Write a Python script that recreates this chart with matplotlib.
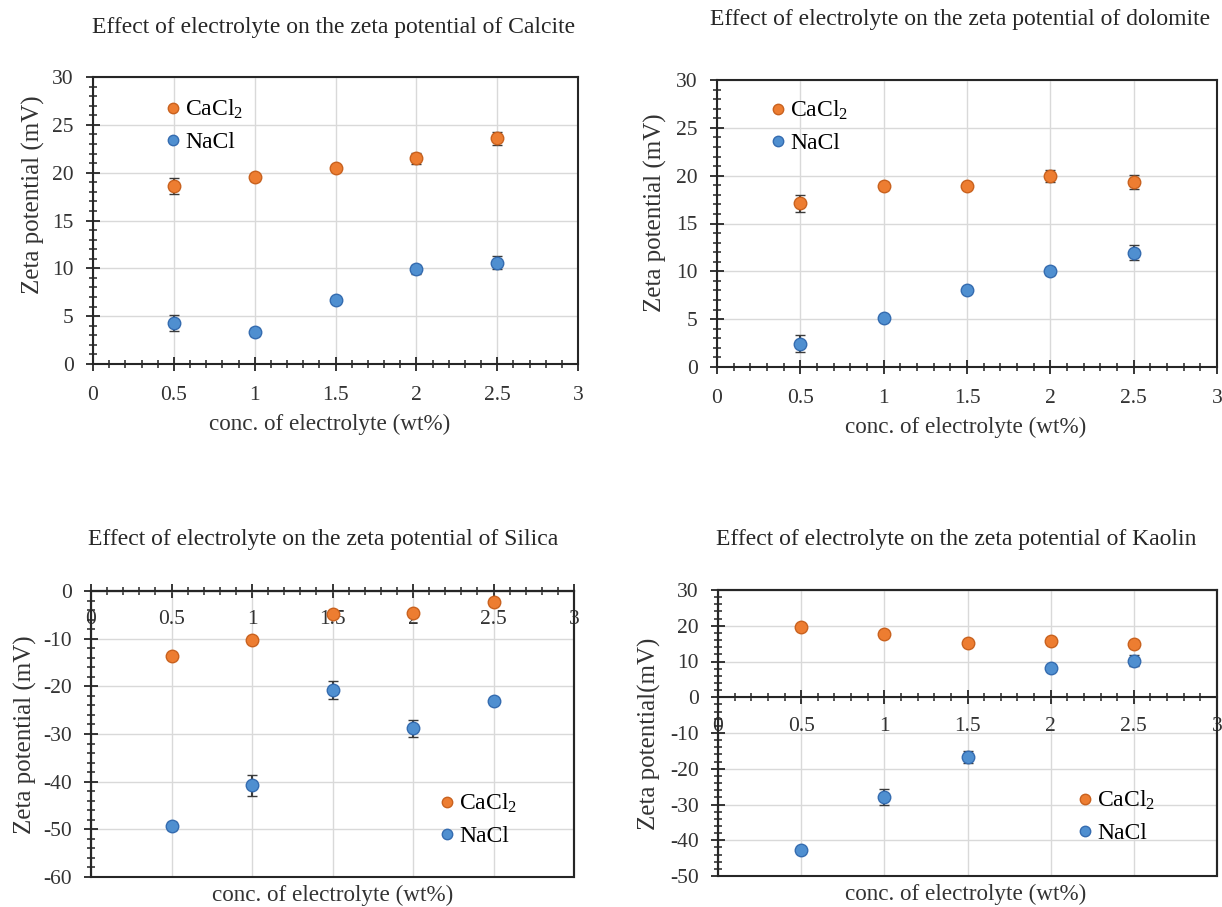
import matplotlib
matplotlib.use("Agg")
import matplotlib.pyplot as plt
from matplotlib.ticker import MultipleLocator
from matplotlib.patches import Rectangle
from matplotlib.lines import Line2D

plt.rcParams["font.family"] = ["Liberation Serif", "DejaVu Serif"]
plt.rcParams["mathtext.fontset"] = "custom"
plt.rcParams["mathtext.rm"] = "Liberation Serif"
plt.rcParams["mathtext.it"] = "Liberation Serif:italic"
plt.rcParams["axes.unicode_minus"] = False

# ---- data: zeta potential (mV) vs electrolyte concentration (wt%) ----
conc = [0.5, 1.0, 1.5, 2.0, 2.5]
x_ticks = [0, 0.5, 1, 1.5, 2, 2.5, 3]
x_tick_labels = ["0", "0.5", "1", "1.5", "2", "2.5", "3"]

calcite_cacl2 = [18.6, 19.5, 20.5, 21.5, 23.6]
calcite_cacl2_err = [0.85, 0.4, 0.3, 0.6, 0.7]
calcite_nacl = [4.25, 3.35, 6.65, 9.9, 10.6]
calcite_nacl_err = [0.85, 0.4, 0.3, 0.5, 0.7]

dolomite_cacl2 = [17.1, 18.9, 18.9, 19.95, 19.35]
dolomite_cacl2_err = [0.9, 0.4, 0.3, 0.6, 0.75]
dolomite_nacl = [2.45, 5.15, 8.1, 10.05, 11.95]
dolomite_nacl_err = [0.85, 0.3, 0.3, 0.4, 0.8]

silica_cacl2 = [-13.7, -10.3, -4.8, -4.6, -2.4]
silica_cacl2_err = [0.3, 0.5, 0.3, 0.5, 0.6]
silica_nacl = [-49.3, -40.8, -20.8, -28.8, -23.0]
silica_nacl_err = [0.8, 2.2, 1.85, 1.75, 0.6]

kaolin_cacl2 = [19.6, 17.7, 15.3, 15.75, 14.8]
kaolin_cacl2_err = [0.5, 0.3, 0.3, 0.8, 0.4]
kaolin_nacl = [-42.8, -27.9, -16.75, 8.1, 10.25]
kaolin_nacl_err = [0.5, 2.1, 1.75, 0.4, 1.5]

series_labels = ["CaCl$_2$", "NaCl"]
x_label = "conc. of electrolyte (wt%)"

# ---- styling ----
ORANGE, ORANGE_EDGE = "#ED7D31", "#C9621F"
BLUE, BLUE_EDGE = "#4F8FD0", "#356CB0"
ERR_COLOR = "#3A3A3A"
FRAME = "#262626"
GRID = "#D9D9D9"
TEXT = "#333333"
FS_TICK = 15.5
FS_TITLE = 17
FS_XLAB = 16.7
FS_YLAB = 18
FS_LEG = 17

W, H = 1222, 907
fig = plt.figure(figsize=(W / 100, H / 100), dpi=100)


def fx(px):
    return px / W


def fy(py):
    return 1 - py / H


def make_axes(left, top, right, bottom):
    return fig.add_axes([fx(left), fy(bottom), fx(right - left), (bottom - top) / H])


def draw_panel(ax, ca, ca_err, na, na_err, ylim, ymajor, yminor, axis_at_zero):
    ax.set_xlim(0, 3)
    ax.set_ylim(*ylim)
    ax.grid(True, color=GRID, lw=1.0, zorder=0)
    ax.set_axisbelow(True)
    style = dict(fmt="o", ms=9, mew=1.0, ecolor=ERR_COLOR, elinewidth=1.5,
                 capsize=3.3, capthick=1.5, zorder=3)
    ax.errorbar(conc, ca, yerr=ca_err, mfc=ORANGE, mec=ORANGE_EDGE, **style)
    ax.errorbar(conc, na, yerr=na_err, mfc=BLUE, mec=BLUE_EDGE, **style)
    ax.set_xticks(x_ticks)
    ax.set_xticklabels(x_tick_labels)
    ax.xaxis.set_minor_locator(MultipleLocator(0.1))
    ax.yaxis.set_major_locator(MultipleLocator(ymajor))
    ax.yaxis.set_minor_locator(MultipleLocator(yminor))
    for s in ax.spines.values():
        s.set_color(FRAME)
        s.set_linewidth(1.5)
    ax.tick_params(axis="both", which="major", direction="inout", length=10,
                   width=1.3, color=FRAME, labelsize=FS_TICK, labelcolor=TEXT)
    ax.tick_params(axis="both", which="minor", direction="inout", length=6,
                   width=1.1, color=FRAME)
    ax.tick_params(axis="y", which="major", pad=9)
    if axis_at_zero:
        ax.spines["bottom"].set_position(("data", 0))
        ax.add_patch(Rectangle((0, 0), 1, 1, transform=ax.transAxes, fill=False,
                               ec=FRAME, lw=1.5, clip_on=False, zorder=5))
        ax.tick_params(axis="x", which="major", pad=9)
    else:
        ax.tick_params(axis="x", which="major", pad=10.5)


def marker_legend(ax, px, py):
    handles = [Line2D([], [], ls="none", marker="o", ms=7.5, mfc=ORANGE, mec=ORANGE_EDGE),
               Line2D([], [], ls="none", marker="o", ms=7.5, mfc=BLUE, mec=BLUE_EDGE)]
    ax.legend(handles, series_labels, loc="upper left", bbox_to_anchor=(fx(px), fy(py)),
              bbox_transform=fig.transFigure, frameon=False, fontsize=FS_LEG,
              handlelength=0.6, handletextpad=0.2, borderpad=0, borderaxespad=0,
              labelspacing=0.45)


def panel_texts(title, tx, ty, ylab, yx, yy, lx, ly):
    fig.text(fx(tx), fy(ty), title, ha="center", va="center", fontsize=FS_TITLE,
             color="#262626")
    fig.text(fx(yx), fy(yy), ylab, rotation=90, ha="center", va="center",
             fontsize=FS_YLAB, color=TEXT)
    fig.text(fx(lx), fy(ly), x_label, ha="center", va="center", fontsize=FS_XLAB,
             color=TEXT)


# Calcite
ax1 = make_axes(93, 77, 578, 364)
draw_panel(ax1, calcite_cacl2, calcite_cacl2_err, calcite_nacl, calcite_nacl_err,
           (0, 30), 5, 1, False)
marker_legend(ax1, 166, 98)
panel_texts("Effect of electrolyte on the zeta potential of Calcite", 334, 27,
            "Zeta potential (mV)", 33, 195, 330, 424)

# Dolomite
ax2 = make_axes(717, 80, 1217, 367)
draw_panel(ax2, dolomite_cacl2, dolomite_cacl2_err, dolomite_nacl, dolomite_nacl_err,
           (0, 30), 5, 1, False)
marker_legend(ax2, 771, 99)
panel_texts("Effect of electrolyte on the zeta potential of dolomite", 960, 20,
            "Zeta potential (mV)", 655, 213, 966, 427)

# Silica
ax3 = make_axes(91, 591, 574, 877)
draw_panel(ax3, silica_cacl2, silica_cacl2_err, silica_nacl, silica_nacl_err,
           (-60, 0), 10, 2, True)
marker_legend(ax3, 440, 792)
panel_texts("Effect of electrolyte on the zeta potential of Silica", 323, 540,
            "Zeta potential (mV)", 25, 735, 333, 895)

# Kaolin
ax4 = make_axes(718, 590, 1217, 876)
draw_panel(ax4, kaolin_cacl2, kaolin_cacl2_err, kaolin_nacl, kaolin_nacl_err,
           (-50, 30), 10, 2, True)
marker_legend(ax4, 1078, 789)
panel_texts("Effect of electrolyte on the zeta potential of Kaolin", 956, 540,
            "Zeta potential(mV)", 649, 734, 966, 894)

fig.savefig("out.png", dpi=100, facecolor="white")
